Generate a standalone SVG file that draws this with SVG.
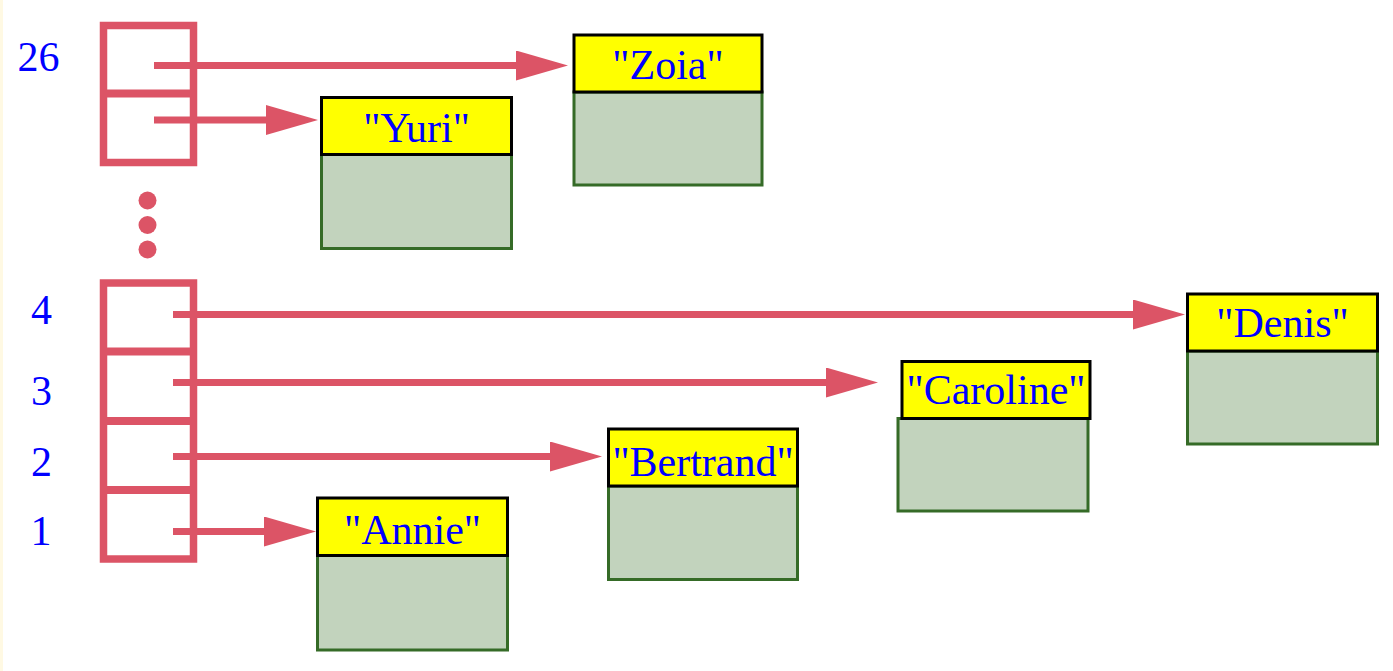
<svg xmlns="http://www.w3.org/2000/svg" width="1393" height="671" viewBox="0 0 1393 671">
<style>
.bg{fill:#ffffff}
.strip{fill:#fff9e3}
.arr{fill:none;stroke:#dc5466;stroke-width:7.5}
.div{stroke:#dc5466;stroke-width:8}
.dot{fill:#dc5466}
.lbl{font-family:"Liberation Serif","Times New Roman",serif;font-size:42px;fill:#0000ff}
.name{font-family:"Liberation Serif","Times New Roman",serif;font-size:42px;fill:#0000ff;text-anchor:middle}
.head{fill:#ffff00;stroke:#000000;stroke-width:3}
.body{fill:#c2d3bd;stroke:#356b27;stroke-width:3}
.link{stroke:#dc5466;stroke-width:7;fill:none}
</style>
<defs>
<marker id="ah" viewBox="0 0 52 30" markerWidth="52" markerHeight="30" markerUnits="userSpaceOnUse" refX="1" refY="15" orient="auto">
<path d="M0,0 L52,15 L0,30 Z" fill="#dc5466"/>
</marker>
</defs>
<rect class="bg" x="0" y="0" width="1393" height="671"/>
<rect class="strip" x="0" y="0" width="3" height="671"/>

<g id="array-top">
<rect class="arr" x="103.5" y="25.5" width="90" height="137"/>
<line class="div" x1="103.5" y1="93.5" x2="193.5" y2="93.5"/>
<text class="lbl" x="38.5" y="71" text-anchor="middle">26</text>
</g>

<g id="ellipsis">
<circle class="dot" cx="147.5" cy="200.5" r="9"/>
<circle class="dot" cx="147.5" cy="225" r="9"/>
<circle class="dot" cx="147.5" cy="249.5" r="9"/>
</g>

<g id="array-bottom">
<rect class="arr" x="103.5" y="283" width="90" height="276"/>
<line class="div" x1="103.5" y1="351.5" x2="193.5" y2="351.5"/>
<line class="div" x1="103.5" y1="421" x2="193.5" y2="421"/>
<line class="div" x1="103.5" y1="490" x2="193.5" y2="490"/>
<text class="lbl" x="41.5" y="324" text-anchor="middle">4</text>
<text class="lbl" x="41.5" y="405" text-anchor="middle">3</text>
<text class="lbl" x="41.5" y="476" text-anchor="middle">2</text>
<text class="lbl" x="41" y="545" text-anchor="middle">1</text>
</g>

<g id="node-zoia">
<rect class="body" x="574" y="92" width="188" height="93"/>
<rect class="head" x="574" y="35" width="188" height="57"/>
<text class="name" x="668" y="79">"Zoia"</text>
</g>

<g id="node-yuri">
<rect class="body" x="321.5" y="154.5" width="190" height="94"/>
<rect class="head" x="321.5" y="97.5" width="190" height="57"/>
<text class="name" x="416.5" y="142">"Yuri"</text>
</g>

<g id="node-denis">
<rect class="body" x="1187.5" y="351" width="190" height="93"/>
<rect class="head" x="1187.5" y="294" width="190" height="57"/>
<text class="name" x="1282.5" y="337">"Denis"</text>
</g>

<g id="node-caroline">
<rect class="body" x="898" y="418.5" width="190" height="92.5"/>
<rect class="head" x="902" y="361.5" width="188" height="57"/>
<text class="name" x="996" y="404">"Caroline"</text>
</g>

<g id="node-bertrand">
<rect class="body" x="608.5" y="486" width="189" height="93.5"/>
<rect class="head" x="608.5" y="429" width="189" height="57"/>
<text class="name" x="703" y="476">"Bertrand"</text>
</g>

<g id="node-annie">
<rect class="body" x="317.5" y="555.5" width="190" height="94.5"/>
<rect class="head" x="317.5" y="498" width="190" height="57.5"/>
<text class="name" x="412.5" y="544">"Annie"</text>
</g>

<g id="connectors">
<line class="link" x1="154" y1="65.5" x2="517" y2="65.5" marker-end="url(#ah)"/>
<line class="link" x1="154" y1="120" x2="267" y2="120" marker-end="url(#ah)"/>
<line class="link" x1="173" y1="314.5" x2="1134" y2="314.5" marker-end="url(#ah)"/>
<line class="link" x1="173" y1="382.5" x2="827" y2="382.5" marker-end="url(#ah)"/>
<line class="link" x1="173" y1="456.5" x2="551" y2="456.5" marker-end="url(#ah)"/>
<line class="link" x1="173" y1="531.5" x2="265" y2="531.5" marker-end="url(#ah)"/>
</g>
</svg>
